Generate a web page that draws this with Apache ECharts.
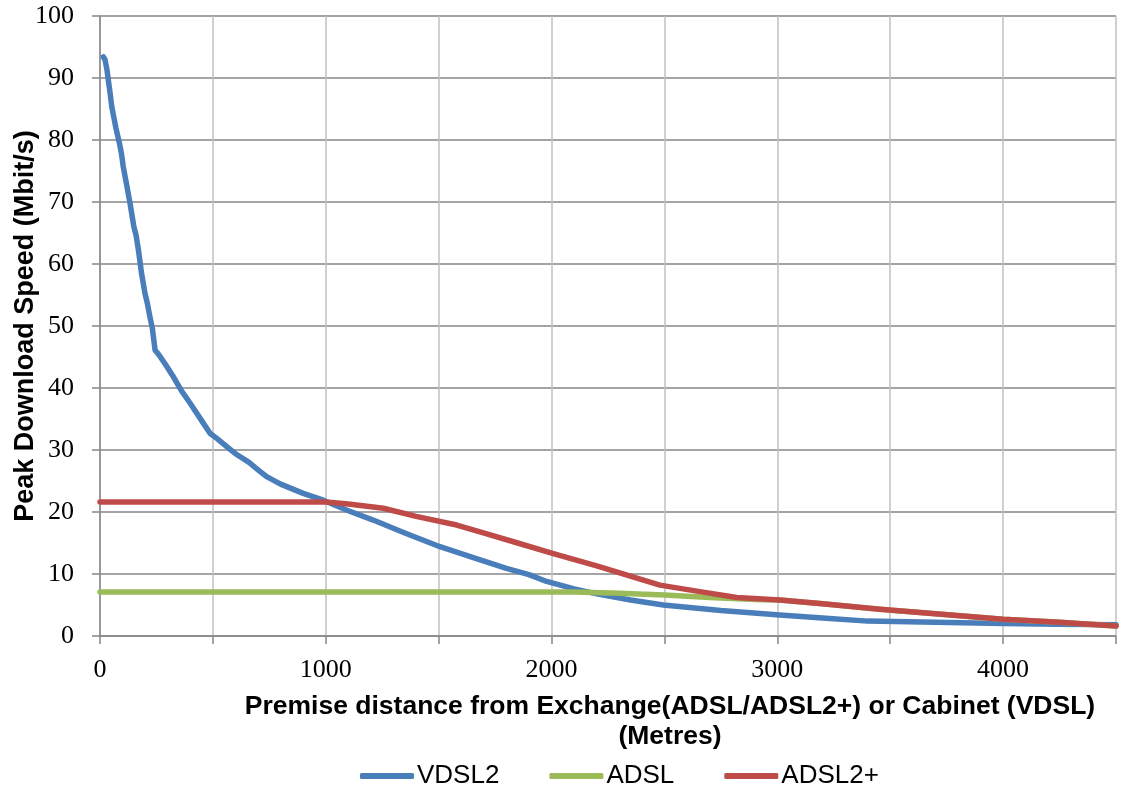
<!DOCTYPE html>
<html>
<head>
<meta charset="utf-8">
<script src="https://cdn.jsdelivr.net/npm/echarts@6/dist/echarts.min.js"></script>
<style>
html,body{margin:0;padding:0;background:#fff;}
#chart{width:1124px;height:785px;}
</style>
</head>
<body>
<div id="chart"></div>
<script>
var seriesNames = ['VDSL2', 'ADSL', 'ADSL2+'];

var vdslX = [15, 22, 30, 45, 52, 58, 70, 86, 95, 103, 118, 133, 150, 160, 170, 184, 199, 210, 221, 232, 244, 260, 290, 325, 360, 400, 440, 487, 520, 560, 600, 660, 700, 738, 800, 900, 989, 1100, 1210, 1350, 1506, 1650, 1800, 1900, 1978, 2100, 2200, 2350, 2495, 2750, 3011, 3200, 3400, 3700, 4000, 4250, 4500];
var vdslY = [93.4, 93.0, 91.5, 87.5, 85.4, 85.6, 82.0, 79.5, 77.8, 75.7, 72.8, 69.8, 66.0, 64.6, 62.3, 58.5, 55.3, 53.6, 51.5, 49.6, 46.1, 45.4, 43.8, 41.8, 39.6, 37.5, 35.3, 32.7, 31.8, 30.6, 29.4, 28.0, 26.8, 25.7, 24.5, 23.0, 21.9, 20.2, 18.7, 16.6, 14.4, 12.7, 10.9, 9.9, 8.8, 7.6, 6.8, 5.8, 5.0, 4.1, 3.4, 2.9, 2.4, 2.2, 2.0, 1.9, 1.8];

var adslX = [0, 2100, 2300, 2500, 2700, 2900, 3011, 3200, 3454, 3700, 4000, 4250, 4500];
var adslY = [7.1, 7.1, 6.9, 6.6, 6.2, 5.9, 5.8, 5.2, 4.3, 3.6, 2.7, 2.2, 1.6];

var adsl2X = [0, 1000, 1100, 1255, 1400, 1580, 1683, 1850, 2008, 2200, 2480, 2650, 2820, 3011, 3200, 3454, 3700, 4000, 4250, 4500];
var adsl2Y = [21.6, 21.6, 21.3, 20.6, 19.3, 17.9, 16.8, 15.0, 13.3, 11.3, 8.2, 7.2, 6.2, 5.8, 5.2, 4.3, 3.6, 2.7, 2.2, 1.6];

var xTitle = 'Premise distance from Exchange(ADSL/ADSL2+) or Cabinet (VDSL)\n(Metres)';
var yTitle = 'Peak Download Speed (Mbit/s)';

function pairs(xs, ys) { return xs.map(function (x, i) { return [x, ys[i]]; }); }

var colors = ['#4a7ebb', '#9bbb59', '#be4b48'];
var chart = echarts.init(document.getElementById('chart'));
var lineSeries = [pairs(vdslX, vdslY), pairs(adslX, adslY), pairs(adsl2X, adsl2Y)].map(function (d, i) {
  return {
    name: seriesNames[i], type: 'line', data: d, symbol: 'none', smooth: false,
    lineStyle: { color: colors[i], width: 5.5, cap: 'round', join: 'round' },
    itemStyle: { color: colors[i] }, z: 2 + i
  };
});

chart.setOption({
  animation: false,
  backgroundColor: '#fff',
  grid: { left: 100, right: 8, top: 16, bottom: 149, containLabel: false },
  xAxis: {
    type: 'value', min: 0, max: 4500, interval: 500,
    axisLine: { show: true, onZero: false, lineStyle: { color: '#868686', width: 1.5 } },
    axisTick: { show: true, length: 8, lineStyle: { color: '#868686', width: 1.5 } },
    axisLabel: {
      margin: 21, color: '#000', fontFamily: 'Liberation Serif', fontSize: 26,
      formatter: function (v) { return v % 1000 === 0 ? String(v) : ''; }
    },
    splitLine: { show: true, lineStyle: { color: '#c0c0c0', width: 1.5 } }
  },
  yAxis: {
    type: 'value', min: 0, max: 100, interval: 10,
    axisLine: { show: true, lineStyle: { color: '#868686', width: 1.5 } },
    axisTick: { show: true, length: 8, lineStyle: { color: '#868686', width: 1.5 } },
    axisLabel: { margin: 26, color: '#000', fontFamily: 'Liberation Serif', fontSize: 26 },
    splitLine: { show: true, lineStyle: { color: '#868686', width: 1.5 } }
  },
  legend: {
    left: 355, top: 758, itemWidth: 54, itemHeight: 6, itemGap: 50, icon: 'roundRect',
    textStyle: { fontFamily: 'Liberation Sans', fontSize: 26, color: '#000', padding: [0, 0, 0, -2] },
    data: seriesNames
  },
  graphic: [
    { type: 'text', x: 670, y: 722, style: { text: xTitle, fontFamily: 'Liberation Sans', fontWeight: 'bold', fontSize: 26.5, lineHeight: 30, fill: '#000', align: 'center', verticalAlign: 'middle' } },
    { type: 'text', x: 26, y: 326, rotation: Math.PI / 2, style: { text: yTitle, fontFamily: 'Liberation Sans', fontWeight: 'bold', fontSize: 27, fill: '#000', align: 'center', verticalAlign: 'middle' } }
  ],
  series: lineSeries
});
</script>
</body>
</html>
